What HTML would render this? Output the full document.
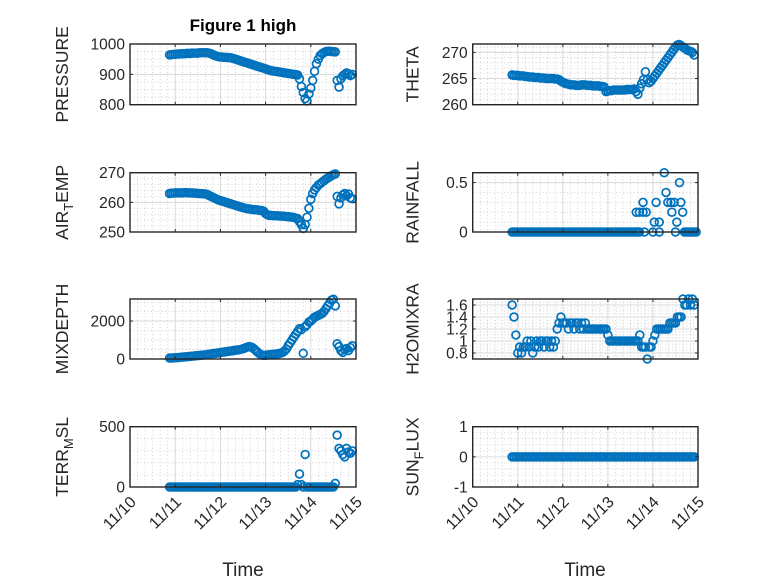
<!DOCTYPE html>
<html><head><meta charset="utf-8"><style>
html,body{margin:0;padding:0;background:#fff;}
svg{display:block;font-family:"Liberation Sans",sans-serif;}
</style></head><body>
<svg id="fig" width="778" height="583" viewBox="0 0 778 583" xmlns="http://www.w3.org/2000/svg">
<rect width="778" height="583" fill="#fff"/>
<text x="243" y="31" text-anchor="middle" font-size="17" font-weight="bold" fill="#000">Figure 1 high</text>
<text x="243" y="576" text-anchor="middle" font-size="19" fill="#262626">Time</text>
<text x="585" y="576" text-anchor="middle" font-size="19" fill="#262626">Time</text>
</svg>
<script>
// shared time base: days since 11/10 00:00, hourly
const timeStart = 0.875;
const timeStep = 1/24;
const xTickLabels = ["11/10","11/11","11/12","11/13","11/14","11/15"];

const pressureValues = [964,965,966,966,967,967,968,968,968,969,969,969,970,970,970,970,971,971,971,971,971,
970,968,965,962,960,958,957,957,956,956,955,955,
954,952,950,948,946,944,942,940,938,936,934,932,930,928,926,924,922,920,918,916,914,912,911,910,909,908,907,906,905,904,903,902,901,900,899,898,
885,860,840,820,812,
835,855,880,910,935,950,962,968,972,
975,976,976,975,975,974,
880,858,885,895,900,905,902,896,900];
const pressureTicks = [800,900,1000];

const thetaValues = [265.7,265.6,265.6,265.6,265.5,265.5,265.5,265.4,265.4,265.3,265.3,265.3,265.2,265.2,265.2,265.1,265.1,265.1,265.0,265.0,265.0,265.0,265.0,264.9,264.9,264.8,
264.5,264.3,264.1,264.0,263.9,263.8,263.8,263.8,263.7,263.7,263.7,263.8,263.8,263.8,263.7,263.7,263.7,263.6,263.6,263.6,263.6,263.5,263.5,263.4,
262.5,262.6,262.7,262.7,262.8,262.8,262.8,262.8,262.8,262.8,262.8,262.9,262.9,262.9,262.9,263.0,
262.5,262.0,263.2,264.0,264.8,266.3,264.8,264.2,
264.5,265.0,265.5,266.0,266.5,267.0,267.5,268.0,268.5,269.0,269.5,270.0,270.5,271.0,271.4,271.5,
271.3,271.0,270.8,270.5,270.3,270.2,270.0,269.5];
const thetaTicks = [260,265,270];

const airTempValues = [263.0,263.1,263.1,263.2,263.2,263.2,263.2,263.2,263.3,263.3,263.2,263.2,263.2,263.1,263.1,263.0,263.0,262.9,262.9,262.8,262.7,
262.3,262.0,261.7,261.4,261.1,260.8,260.6,260.4,260.2,260.0,259.8,259.6,259.4,259.2,259.0,258.8,258.6,258.4,258.2,258.0,257.9,257.8,257.7,257.6,257.5,257.5,257.4,257.3,257.2,257.0,
256.2,255.8,255.6,255.6,255.5,255.5,255.5,255.4,255.4,255.3,255.3,255.2,255.2,255.1,255.0,254.9,254.7,254.5,
253.5,252.5,251.2,252.5,255.0,258.0,
261.0,263.0,264.2,265.0,265.8,266.3,266.8,267.3,267.8,268.2,268.6,269.0,269.3,269.6,
262.0,259.5,261.5,262.5,263.0,262.2,262.8,261.5,261.2];
const airTempTicks = [250,260,270];

const rainfallValues = [0,0,0,0,0,0,0,0,0,0,0,0,0,0,0,0,0,0,0,0,0,0,0,0,0,0,0,0,0,0,0,0,0,0,0,0,0,0,0,0,0,0,0,0,0,0,0,0,0,0,0,0,0,0,0,0,0,0,0,0,0,0,0,0,0,0];
const rainfallExtraTimes = [3.63,3.67,3.70,3.63,3.70,3.78,3.85,3.78,3.81,4.0,4.03,4.07,4.14,4.14,4.25,4.29,4.33,4.40,4.42,4.47,4.50,4.53,4.59,4.62,4.66,4.70,4.74,4.77,4.80,4.84,4.88,4.92,4.96];
const rainfallExtraValues = [0,0,0,0.2,0.2,0.2,0.2,0.3,0,0,0.1,0.3,0.1,0,0.6,0.4,0.3,0.3,0.2,0.3,0,0.1,0.5,0.3,0.2,0,0,0,0,0,0,0,0];
const rainfallTicks = [0,0.5];
const rainfallTickLabels = ["0","0.5"];

const mixDepthValues = [50,55,60,65,70,80,90,100,110,120,130,140,150,160,170,180,190,200,210,220,235,250,265,280,295,310,325,340,355,370,385,400,415,430,445,460,475,490,510,540,580,620,650,
640,600,520,430,340,260,210,190,200,210,
230,240,250,260,270,290,310,350,420,520,
700,850,1000,1150,1300,1450,1600,1550,300,1700,
1800,1950,2000,2100,2200,2250,2300,2350,2400,2500,2650,2800,2950,3100,
3150,2800,
800,650,450,350,500,550,450,600,700];
const mixDepthTicks = [0,2000];

const h2oValues = [1.6,1.4,1.1,0.8,0.9,0.8,0.9,0.9,1.0,0.9,1.0,0.8,0.9,1.0,0.9,1.0,1.0,0.9,1.0,1.0,0.9,1.0,0.9,1.0,
1.2,1.3,1.4,1.3,1.3,1.3,1.2,1.3,1.3,1.2,1.3,1.3,1.2,1.3,1.2,1.3,
1.2,1.2,1.2,1.2,1.2,1.2,1.2,1.2,1.2,1.2,1.2,1.1,
1.0,1.0,1.0,1.0,1.0,1.0,1.0,1.0,1.0,1.0,1.0,1.0,1.0,1.0,1.0,1.0,
1.1,0.9,0.9,0.9,0.7,0.9,0.9,1.0,1.1,1.2,1.2,1.2,1.2,1.2,1.2,1.2,
1.3,1.3,1.3,1.3,1.4,1.4,1.4,1.7,1.6,1.6,1.7,1.6,1.7,1.6];
const h2oTicks = [0.8,1,1.2,1.4,1.6];
const h2oTickLabels = ["0.8","1","1.2","1.4","1.6"];

const terrValues = [0,0,0,0,0,0,0,0,0,0,0,0,0,0,0,0,0,0,0,0,0,0,0,0,0,0,0,0,0,0,0,0,0,0,0,0,0,0,0,0,0,0,0,0,0,0,0,0,0,0,0,0,0,0,0,0,0,0,0,0,0,0,0,0,0,0,0,0,
20,108,20,0,270,0,0,0,0,0,0,0,0,0,0,0,0,0,0,0,30,
430,320,300,270,250,320,290,280,300];
const terrTicks = [0,500];

const sunValues = [0,0,0,0,0,0,0,0,0,0,0,0,0,0,0,0,0,0,0,0,0,0,0,0,0,0,0,0,0,0,0,0,0,0,0,0,0,0,0,0,0,0,0,0,0,0,0,0,0,0,0,0,0,0,0,0,0,0,0,0,0,0,0,0,0,0,0,0,0,0,0,0,0,0,0,0,0,0,0,0,0,0,0,0,0,0,0,0,0,0,0,0,0,0,0,0,0,0];
const sunTicks = [-1,0,1];

const NS = "http://www.w3.org/2000/svg";
const svg = document.getElementById('fig');
const COL = [[130,356],[472.7,698]];
const ROW = [[44,104.7],[172.7,232],[299,359],[426.7,487]];

function mk(tag, attrs, parent){
  const e = document.createElementNS(NS, tag);
  for (const k in attrs) e.setAttribute(k, attrs[k]);
  (parent||svg).appendChild(e);
  return e;
}

function addPoint(mg, cx, cy, name){
  const c = mk('circle',{cx:cx,cy:cy,r:3.9},mg);
  
  
}

function panel(cfg){
  const [x0,x1] = COL[cfg.col], [y0,y1] = ROW[cfg.row];
  const g = mk('g', {});
  
  
  const xs = d => x0 + (d/5)*(x1-x0);
  const ys = v => y1 - (v-cfg.ymin)/(cfg.ymax-cfg.ymin)*(y1-y0);
  for (let d=1/6; d<5; d+=1/6){
    if (Math.abs(d-Math.round(d))<1e-6) continue;
    mk('line',{x1:xs(d),x2:xs(d),y1:y0,y2:y1,stroke:'#c0c0c0','stroke-width':0.7,'stroke-dasharray':'1 2.5'},g);
  }
  for (let v=cfg.ymin; v<=cfg.ymax+1e-9; v+=cfg.minor){
    const vv = Math.round(v*1000)/1000;
    if (cfg.ticks.some(t=>Math.abs(t-vv)<1e-9)) continue;
    mk('line',{x1:x0,x2:x1,y1:ys(vv),y2:ys(vv),stroke:'#c0c0c0','stroke-width':0.7,'stroke-dasharray':'1 2.5'},g);
  }
  for (let d=1; d<5; d++) mk('line',{x1:xs(d),x2:xs(d),y1:y0,y2:y1,stroke:'#dadada','stroke-width':1},g);
  cfg.ticks.forEach(t=>{ mk('line',{x1:x0,x2:x1,y1:ys(t),y2:ys(t),stroke:'#dadada','stroke-width':1},g); });
  const mg = mk('g',{fill:'none',stroke:'#0072BD','stroke-width':1.7},g);
  
  
  cfg.values.forEach((v,i)=>{
    if (v===null) return;
    addPoint(mg, xs(timeStart+i*timeStep), ys(v), cfg.name);
  });
  if (cfg.extraT) cfg.extraT.forEach((t,i)=>{
    addPoint(mg, xs(t), ys(cfg.extraV[i]), cfg.name);
  });
  mk('rect',{x:x0,y:y0,width:x1-x0,height:y1-y0,fill:'none',stroke:'#262626','stroke-width':1.4},g);
  for (let d=0; d<=5; d++){
    mk('line',{x1:xs(d),x2:xs(d),y1:y1,y2:y1-3,stroke:'#262626','stroke-width':1},g);
    mk('line',{x1:xs(d),x2:xs(d),y1:y0,y2:y0+3,stroke:'#262626','stroke-width':1},g);
  }
  cfg.ticks.forEach((t,i)=>{
    mk('line',{x1:x0,x2:x0+3,y1:ys(t),y2:ys(t),stroke:'#262626','stroke-width':1},g);
    mk('line',{x1:x1,x2:x1-3,y1:ys(t),y2:ys(t),stroke:'#262626','stroke-width':1},g);
    const tl = mk('text',{x:x0-5,y:ys(t)+5.5,'text-anchor':'end','font-size':15.5,fill:'#262626'},g);
    
    
    tl.textContent = cfg.tickLabels ? cfg.tickLabels[i] : String(t);
  });
  if (cfg.row===3){
    xTickLabels.forEach((lab,d)=>{
      const tx = mk('text',{x:0,y:0,'text-anchor':'end','font-size':16,fill:'#262626',transform:`translate(${xs(d)+7},${y1+16}) rotate(-45)`},g);
      
      
      tx.textContent = lab;
    });
  }
  const lx = x0 - cfg.labelOff, ly = (y0+y1)/2;
  const yl = mk('text',{x:0,y:0,'text-anchor':'middle','font-size':17.5,fill:'#262626',transform:`translate(${lx},${ly}) rotate(-90)`},g);
  
  
  if (cfg.sub){
    const a = mk('tspan',{},yl); a.textContent = cfg.sub[0];
    const b = mk('tspan',{dy:5,'font-size':13},yl); b.textContent = cfg.sub[1];
    const c = mk('tspan',{dy:-5},yl); c.textContent = cfg.sub[2];
  } else yl.textContent = cfg.label;
}

panel({name:'pressure',col:0,row:0,values:pressureValues,ymin:800,ymax:1000,ticks:pressureTicks,minor:25,label:'PRESSURE',labelOff:62});
panel({name:'theta',col:1,row:0,values:thetaValues,ymin:260,ymax:271.6,ticks:thetaTicks,minor:1,label:'THETA',labelOff:54});
panel({name:'air-temp',col:0,row:1,values:airTempValues,ymin:250,ymax:270,ticks:airTempTicks,minor:2,sub:['AIR','T','EMP'],labelOff:62});
panel({name:'rainfall',col:1,row:1,values:rainfallValues,extraT:rainfallExtraTimes,extraV:rainfallExtraValues,ymin:0,ymax:0.6,ticks:rainfallTicks,tickLabels:rainfallTickLabels,minor:0.1,label:'RAINFALL',labelOff:54});
panel({name:'mixdepth',col:0,row:2,values:mixDepthValues,ymin:0,ymax:3160,ticks:mixDepthTicks,minor:500,label:'MIXDEPTH',labelOff:62});
panel({name:'h2omixra',col:1,row:2,values:h2oValues,ymin:0.7,ymax:1.7,ticks:h2oTicks,tickLabels:h2oTickLabels,minor:0.05,label:'H2OMIXRA',labelOff:54});
panel({name:'terr-msl',col:0,row:3,values:terrValues,ymin:0,ymax:500,ticks:terrTicks,minor:100,sub:['TERR','M','SL'],labelOff:62});
panel({name:'sun-flux',col:1,row:3,values:sunValues,ymin:-1,ymax:1,ticks:sunTicks,minor:0.2,sub:['SUN','F','LUX'],labelOff:54});
</script>
</body></html>
